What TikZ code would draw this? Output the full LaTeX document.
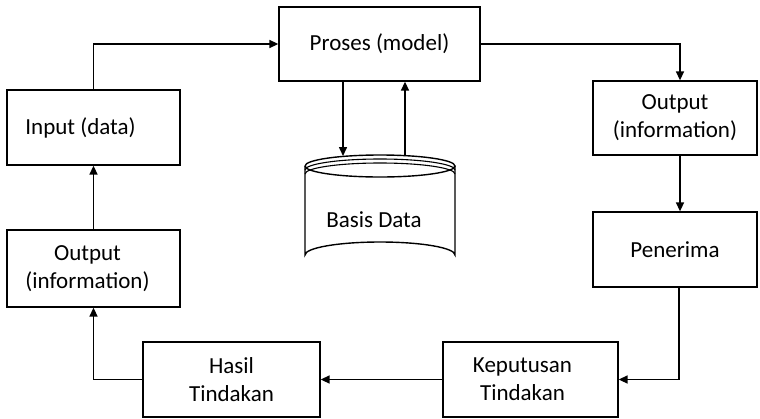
\documentclass[tikz,border=0pt]{standalone}
\usepackage{fontspec}
\setmainfont{Carlito}
\usetikzlibrary{arrows.meta}
\begin{document}
\begin{tikzpicture}[x=1pt,y=-1pt,
  box/.style n args={2}{draw, line width=1.3pt, minimum width=#1, minimum height=#2,
    inner sep=0pt, align=center, font=\fontsize{23}{28}\selectfont},
  arr/.style={line width=1.5pt, -{Triangle[length=9pt,width=8pt]}},
  ln/.style={line width=1.4pt},
  lbl/.style={font=\fontsize{23}{28}\selectfont}]
\useasboundingbox (0,0) rectangle (760,418);
\fill[white] (0,0) rectangle (760,418);

% boxes
\node[box={201pt}{74pt}] (proc) at (379.5,44) {Proses (model)};
\node[box={173pt}{75pt}] (inp) at (93.5,127.5) {Input (data)\hspace*{26pt}};
\node[box={164pt}{74pt}] (outr) at (675,118) {Output\\(information)};
\node[box={164pt}{75pt}] (pen) at (675,249.5) {Penerima};
\node[box={175pt}{75pt}] (kep) at (530.5,379.5) {Keputusan\hspace*{16pt}\\Tindakan\hspace*{16pt}};
\node[box={177pt}{75pt}] (has) at (231.5,379.5) {Hasil\\Tindakan};
\node[box={173pt}{77pt}] (outl) at (93.5,268.5) {Output\hspace*{12pt}\\(information)\hspace*{12pt}};

% database cylinder
\draw[ln] (305,166) arc[start angle=180,end angle=360,x radius=75,y radius=11]
          arc[start angle=0,end angle=180,x radius=75,y radius=11];
\draw[line width=1.1pt] (305,170) arc[start angle=180,end angle=360,x radius=75,y radius=11];
\draw[line width=1.1pt] (305,174) arc[start angle=180,end angle=360,x radius=75,y radius=11];
\draw[ln] (305,166) -- (305,255) arc[start angle=180,end angle=360,x radius=75,y radius=13] -- (455,166);
\node[lbl] (db) at (374,220) {Basis Data};
\coordinate (dbin) at (343,156);
\coordinate (dbout) at (405,156);

% connectors
\draw[arr] (inp.north) |- (proc.west);
\draw[arr] (proc.east) -| ([xshift=5pt]outr.north);
\draw[arr] ([xshift=5pt]outr.south) -- ([xshift=5pt]pen.north);
\draw[arr] ([xshift=4pt]pen.south) |- (kep.east);
\draw[arr] (kep.west) -- (has.east);
\draw[arr] (has.west) -| (outl.south);
\draw[arr] (outl.north) -- (inp.south);
\draw[arr] (proc.south -| dbin) -- (dbin);
\draw[arr] (dbout) -- (proc.south -| dbout);
\end{tikzpicture}
\end{document}
